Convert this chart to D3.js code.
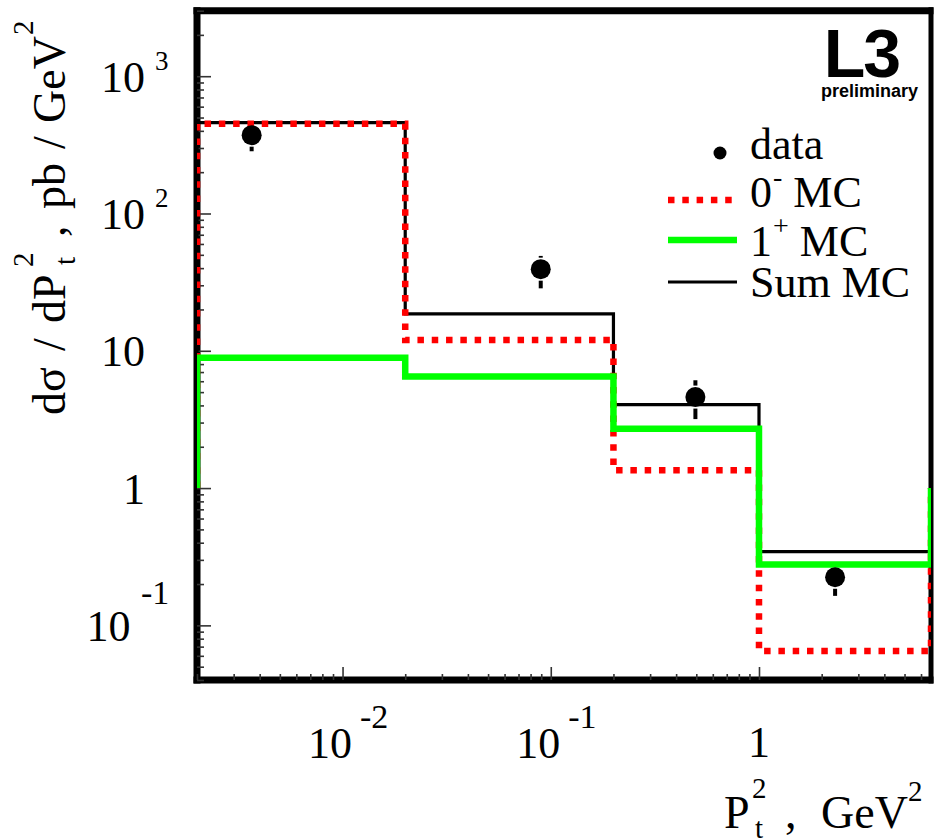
<!DOCTYPE html>
<html><head><meta charset="utf-8">
<script src="https://cdn.jsdelivr.net/npm/d3@7"></script>
<style>body{margin:0;background:#fff} svg{display:block}</style>
</head><body>
<svg id="chart" width="935" height="840"></svg>
<script>
// Bin edges of the P_t^2 histograms (GeV^2)
const binEdges = [0.002, 0.02, 0.2, 1, 6.7];
// Monte Carlo predictions per bin (pb/GeV^2)
const mcZeroMinus = [450, 12.0, 1.35, 0.065];
const mcOnePlus = [8.9, 6.5, 2.7, 0.277];
const mcSum = [459, 18.6, 4.05, 0.345];
// Measured cross sections with their errors
const dataX = [0.00366, 0.0895, 0.495, 2.32];
const dataY = [372, 39.3, 4.6, 0.224];
const dataErrLow = [88, 10.8, 1.42, 0.06];
const dataErrHigh = [70, 9.8, 1.5, 0.03];
// Tick labels: mantissa and exponent
const xTickLabels = [{v: 0.01, base: "10", exp: "-2"}, {v: 0.1, base: "10", exp: "-1"}, {v: 1, base: "1", exp: ""}];
const yTickLabels = [{v: 1000, base: "10", exp: "3"}, {v: 100, base: "10", exp: "2"}, {v: 10, base: "10", exp: ""}, {v: 1, base: "1", exp: ""}, {v: 0.1, base: "10", exp: "-1"}];
// Legend entries
const legendEntries = [
  {kind: "dot", text: "data", sup: ""},
  {kind: "red", text: "0", sup: "-"},
  {kind: "green", text: "1", sup: "+"},
  {kind: "black", text: "Sum MC", sup: ""}
];

const svg = d3.select("#chart");
const serif = "'Liberation Serif','Times New Roman',serif";
const sans = "'Liberation Sans',Arial,sans-serif";

const L = 197, R = 931, T = 10.7, B = 680;
const x = d3.scaleLog().domain([binEdges[0], binEdges[binEdges.length - 1]]).range([L, R]);
const y = d3.scaleLog().domain([0.04, 3000]).range([B, T]);

// decade ticks and the 2..9 minor ticks inside a log domain
function logTicks(scale) {
  const [a, b] = scale.domain();
  const major = [], minor = [];
  for (let e = Math.floor(Math.log10(a)); e <= Math.ceil(Math.log10(b)); e++) {
    for (let k = 1; k <= 9; k++) {
      const v = k * Math.pow(10, e);
      if (v < a * 0.999 || v > b * 1.001) continue;
      (k === 1 ? major : minor).push(v);
    }
  }
  return {major, minor};
}

// frame
const frame = svg.append("g");
frame.append("line").attr("x1", L).attr("x2", L).attr("y1", T - 3.5).attr("y2", B + 3.5).attr("stroke", "#000").attr("stroke-width", 7);
frame.append("line").attr("x1", L - 3.5).attr("x2", R + 2.5).attr("y1", B).attr("y2", B).attr("stroke", "#000").attr("stroke-width", 7);
frame.append("line").attr("x1", L - 3.5).attr("x2", R + 2.5).attr("y1", T).attr("y2", T).attr("stroke", "#000").attr("stroke-width", 7);
frame.append("line").attr("x1", R).attr("x2", R).attr("y1", T - 3.5).attr("y2", B + 3.5).attr("stroke", "#000").attr("stroke-width", 5);

// axis ticks, pointing into the plot
const yt = logTicks(y), xt = logTicks(x);
function styleAxis(g) {
  g.select(".domain").remove();
  g.selectAll(".tick line").attr("stroke", "#333").attr("stroke-width", 1.6);
  g.selectAll(".tick text").remove();
}
svg.append("g").attr("transform", `translate(${L},0)`)
  .call(d3.axisRight(y).tickValues(yt.major).tickSize(14).tickFormat("")).call(styleAxis);
svg.append("g").attr("transform", `translate(${L},0)`)
  .call(d3.axisRight(y).tickValues(yt.minor).tickSize(7).tickFormat("")).call(styleAxis);
svg.append("g").attr("transform", `translate(0,${B})`)
  .call(d3.axisTop(x).tickValues(xt.major).tickSize(13).tickFormat("")).call(styleAxis);
svg.append("g").attr("transform", `translate(0,${B})`)
  .call(d3.axisTop(x).tickValues(xt.minor).tickSize(6).tickFormat("")).call(styleAxis);

// histograms, clipped to the plot area
svg.append("clipPath").attr("id", "plotClip").append("rect")
  .attr("x", L).attr("y", T).attr("width", R - L).attr("height", B - T);
const hist = svg.append("g").attr("clip-path", "url(#plotClip)");
function stepPoints(vals) {
  const pts = [[binEdges[0], 1]];
  vals.forEach((v, i) => { pts.push([binEdges[i], v]); pts.push([binEdges[i + 1], v]); });
  pts.push([binEdges[binEdges.length - 1], 1]);
  return pts;
}
const stepLine = d3.line().x(d => x(d[0])).y(d => y(d[1]));
hist.append("path").attr("d", stepLine(stepPoints(mcSum)))
  .attr("fill", "none").attr("stroke", "#000").attr("stroke-width", 3.2);
hist.append("path").attr("d", stepLine(stepPoints(mcZeroMinus)))
  .attr("fill", "none").attr("stroke", "#ff0000").attr("stroke-width", 6.5).attr("stroke-dasharray", "6.5 7.8");
hist.append("path").attr("d", stepLine(stepPoints(mcOnePlus)))
  .attr("fill", "none").attr("stroke", "#00ff00").attr("stroke-width", 6.5);

// data points with error bars drawn outside the marker
const r = 10, gap = 1.5;
const pts = svg.append("g");
dataX.forEach((xv, i) => {
  const cx = x(xv), cy = y(dataY[i]);
  const yHi = y(dataY[i] + dataErrHigh[i]), yLo = y(dataY[i] - dataErrLow[i]);
  if (cy - r - gap > yHi) pts.append("line").attr("x1", cx).attr("x2", cx).attr("y1", yHi).attr("y2", cy - r - gap).attr("stroke", "#000").attr("stroke-width", 4);
  if (yLo > cy + r + gap) pts.append("line").attr("x1", cx).attr("x2", cx).attr("y1", cy + r + gap).attr("y2", yLo).attr("stroke", "#000").attr("stroke-width", 4);
  pts.append("circle").attr("cx", cx).attr("cy", cy).attr("r", r).attr("fill", "#000");
});

// y tick labels
yTickLabels.forEach(t => {
  const ty = y(t.v) + 15.5;
  if (t.exp === "") {
    svg.append("text").attr("x", 145).attr("y", ty).attr("text-anchor", "end")
      .attr("font-family", serif).attr("font-size", 44).text(t.base);
  } else {
    const neg = t.exp.startsWith("-");
    const txt = svg.append("text").attr("x", neg ? 86.5 : 101).attr("y", ty)
      .attr("font-family", serif).attr("font-size", 44).text(t.base);
    txt.append("tspan").attr("dx", neg ? 10.5 : 10).attr("dy", neg ? -37 : -22)
      .attr("font-size", neg ? 34 : 27).text(t.exp);
  }
});

// x tick labels
xTickLabels.forEach(t => {
  const tx = x(t.v);
  if (t.exp === "") {
    svg.append("text").attr("x", tx).attr("y", 757).attr("text-anchor", "middle")
      .attr("font-family", serif).attr("font-size", 44).text(t.base);
  } else {
    const txt = svg.append("text").attr("x", tx - 34.5).attr("y", 758)
      .attr("font-family", serif).attr("font-size", 44).text(t.base);
    txt.append("tspan").attr("dx", 8).attr("dy", -30).attr("font-size", 34).text(t.exp);
  }
});

// x title: P_t^2 , GeV^2
const xt1 = svg.append("g").attr("font-family", serif);
xt1.append("text").attr("x", 724).attr("y", 828).attr("font-size", 46).text("P");
xt1.append("text").attr("x", 752).attr("y", 798).attr("font-size", 29).text("2");
xt1.append("text").attr("x", 755).attr("y", 838).attr("font-size", 29).text("t");
xt1.append("text").attr("x", 785).attr("y", 828).attr("font-size", 46).text(",");
xt1.append("text").attr("x", 821).attr("y", 828).attr("font-size", 46).text("GeV");
xt1.append("text").attr("x", 908).attr("y", 801).attr("font-size", 29).text("2");

// y title: dσ / dP_t^2 , pb / GeV^2 (rotated)
const yt1 = svg.append("g").attr("font-family", serif).attr("transform", "translate(65,415) rotate(-90)");
yt1.append("text").attr("x", 0).attr("y", 0).attr("font-size", 46).text("dσ");
yt1.append("text").attr("x", 64).attr("y", 0).attr("font-size", 46).text("/");
yt1.append("text").attr("x", 92).attr("y", 0).attr("font-size", 46).text("dP");
yt1.append("text").attr("x", 148).attr("y", -32).attr("font-size", 29).text("2");
yt1.append("text").attr("x", 150).attr("y", 10).attr("font-size", 29).text("t");
yt1.append("text").attr("x", 178).attr("y", 0).attr("font-size", 46).text(",");
yt1.append("text").attr("x", 206).attr("y", 0).attr("font-size", 46).text("pb");
yt1.append("text").attr("x", 266).attr("y", 0).attr("font-size", 46).text("/");
yt1.append("text").attr("x", 292).attr("y", 0).attr("font-size", 46).text("GeV");
yt1.append("text").attr("x", 380).attr("y", -32).attr("font-size", 29).text("2");

// experiment logo
svg.append("text").attr("x", 899).attr("y", 77).attr("text-anchor", "end")
  .attr("font-family", sans).attr("font-weight", "bold").attr("font-size", 68).attr("letter-spacing", -2).text("L3");
svg.append("text").attr("x", 918).attr("y", 97).attr("text-anchor", "end")
  .attr("font-family", sans).attr("font-weight", "bold").attr("font-size", 18).text("preliminary");

// legend: marker/line rows and their text baselines
const legendY = [153, 200, 240, 282];
const legendBase = [159, 207, 256, 297];
const lg = svg.append("g");
legendEntries.forEach((e, i) => {
  const ly = legendY[i];
  if (e.kind === "dot") {
    lg.append("circle").attr("cx", 720).attr("cy", ly).attr("r", 6.5).attr("fill", "#000");
  } else {
    const stroke = e.kind === "red" ? "#ff0000" : e.kind === "green" ? "#00ff00" : "#000";
    const ln = lg.append("line").attr("x1", 668).attr("x2", 737).attr("y1", ly).attr("y2", ly)
      .attr("stroke", stroke).attr("stroke-width", e.kind === "black" ? 3.2 : 6.5);
    if (e.kind === "red") ln.attr("stroke-dasharray", "6.5 7.8");
  }
  const t = lg.append("text").attr("x", 750).attr("y", legendBase[i]).attr("font-family", serif).attr("font-size", 44).text(e.text);
  if (e.sup !== "") {
    t.append("tspan").attr("dy", -21).attr("dx", 1).attr("font-size", 28).text(e.sup);
    t.append("tspan").attr("dy", 21).text(" MC");
  }
});
</script>
</body></html>
